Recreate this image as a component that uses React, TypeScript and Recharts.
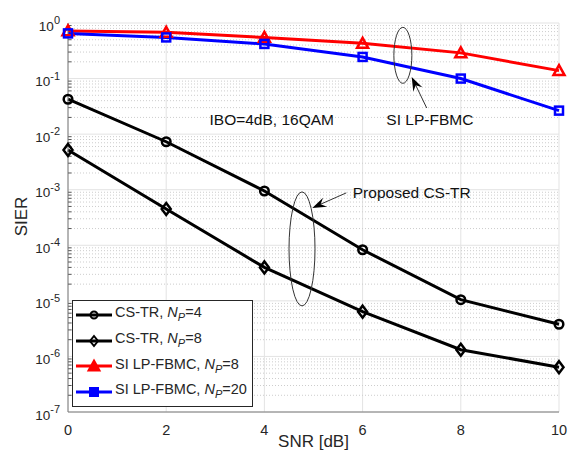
import React from 'react';
import {
  LineChart,
  Line,
  XAxis,
  YAxis,
  CartesianGrid,
  ReferenceLine,
  ReferenceDot,
  Legend,
  Label,
} from 'recharts';

// ---------- data ----------
const snrDb = [0, 2, 4, 6, 8, 10];
const csTrNp4 = [4.25e-2, 7.3e-3, 9.5e-4, 8.3e-5, 1.05e-5, 3.8e-6];
const csTrNp8 = [5.2e-3, 4.5e-4, 4.0e-5, 6.4e-6, 1.32e-6, 6.4e-7];
const siNp8 = [0.72, 0.68, 0.55, 0.43, 0.29, 0.139];
const siNp20 = [0.65, 0.55, 0.42, 0.245, 0.1, 0.0265];

const xTicks = [0, 2, 4, 6, 8, 10];
const yTicks = [1e-7, 1e-6, 1e-5, 1e-4, 1e-3, 1e-2, 1e-1, 1];
const minorMantissas = [2, 3, 4, 5, 6, 7, 8, 9];

const seriesNames = [
  { key: 'np4', base: 'CS-TR, ', np: '4', color: '#000000', marker: 'circle' },
  { key: 'np8', base: 'CS-TR, ', np: '8', color: '#000000', marker: 'diamond' },
  { key: 'si8', base: 'SI LP-FBMC, ', np: '8', color: '#ff0000', marker: 'triangle' },
  { key: 'si20', base: 'SI LP-FBMC, ', np: '20', color: '#0000ff', marker: 'square' },
];

const data = snrDb.map((x, i) => ({
  snr: x,
  np4: csTrNp4[i],
  np8: csTrNp8[i],
  si8: siNp8[i],
  si20: siNp20[i],
}));

const minorTicks: number[] = [];
yTicks.slice(0, -1).forEach((d) => minorMantissas.forEach((m) => minorTicks.push(d * m)));

const FONT = '"Liberation Sans", Arial, Helvetica, sans-serif';
const TEXT = '#262626';

// ---------- markers ----------
function Marker({ type, cx, cy, color, legend }: any) {
  const sw = legend ? 2 : 2.5;
  const fill = legend ? color : 'none';
  if (type === 'circle') {
    return <circle cx={cx} cy={cy} r={legend ? 3.5 : 4.3} fill="none" stroke={color} strokeWidth={sw} />;
  }
  if (type === 'diamond') {
    const h = legend ? 5 : 6;
    const w = legend ? 4 : 4.5;
    return (
      <polygon
        points={`${cx},${cy - h} ${cx + w},${cy} ${cx},${cy + h} ${cx - w},${cy}`}
        fill="none"
        stroke={color}
        strokeWidth={sw}
      />
    );
  }
  if (type === 'triangle') {
    const s = 5.5;
    return (
      <polygon
        points={`${cx},${cy - s} ${cx + s},${cy + s * 0.8} ${cx - s},${cy + s * 0.8}`}
        fill={fill}
        stroke={color}
        strokeWidth={sw}
        strokeLinejoin="miter"
      />
    );
  }
  const s = 4;
  return <rect x={cx - s} y={cy - s} width={2 * s} height={2 * s} fill={fill} stroke={color} strokeWidth={sw} />;
}

const makeDot = (type: string, color: string) => (props: any) => {
  const { cx, cy, index } = props;
  if (cx == null || cy == null) return <g key={`d-${type}-${index}`} />;
  return (
    <g key={`d-${type}-${index}`}>
      <Marker type={type} cx={cx} cy={cy} color={color} />
    </g>
  );
};

// ---------- ticks ----------
const YTick = (props: any) => {
  const { x, y, payload } = props;
  const exp = Math.round(Math.log10(payload.value));
  return (
    <text x={x - 8} y={y + 7.5} textAnchor="end" fontFamily={FONT} fill={TEXT}>
      <tspan fontSize={13.5}>10</tspan>
      <tspan fontSize={11} dy={-6.5}>
        {exp}
      </tspan>
    </text>
  );
};

const XTick = (props: any) => {
  const { x, y, payload } = props;
  return (
    <text x={x} y={y + 23} textAnchor="middle" fontFamily={FONT} fontSize={14.5} fill={TEXT}>
      {payload.value}
    </text>
  );
};

// ---------- annotations ----------
const TextShape = (label: string, anchor: string) => (p: any) => (
  <text x={p.cx} y={p.cy} textAnchor={anchor} fontFamily={FONT} fontSize={15.5} fill="#111">
    {label}
  </text>
);

const EllipseShape = (rx: number, ry: number) => (p: any) => (
  <ellipse cx={p.cx} cy={p.cy} rx={rx} ry={ry} fill="none" stroke="#333" strokeWidth={1} />
);

const ArrowShape = (dx: number, dy: number) => (p: any) => {
  const tx = p.cx;
  const ty = p.cy;
  const sx = tx + dx;
  const sy = ty + dy;
  const len = Math.hypot(dx, dy);
  const ux = -dx / len;
  const uy = -dy / len;
  const hl = 14;
  const hw = 5;
  const bx = tx - ux * hl;
  const by = ty - uy * hl;
  const nx = -uy;
  const ny = ux;
  const ix = tx - ux * hl * 0.65;
  const iy = ty - uy * hl * 0.65;
  return (
    <g>
      <line x1={sx} y1={sy} x2={ix} y2={iy} stroke="#333" strokeWidth={1} />
      <polygon
        points={`${tx},${ty} ${bx + nx * hw},${by + ny * hw} ${ix},${iy} ${bx - nx * hw},${by - ny * hw}`}
        fill="#000"
        stroke="none"
      />
    </g>
  );
};

// ---------- legend ----------
const LegendContent = () => (
  <div
    style={{
      width: 181,
      height: 107,
      boxSizing: 'border-box',
      border: '1px solid #262626',
      background: '#fff',
      paddingTop: 1,
      fontFamily: FONT,
    }}
  >
    {seriesNames.map((s) => (
      <div key={s.key} style={{ height: 25.7, display: 'flex', alignItems: 'center' }}>
        <svg width={42} height={20} style={{ flex: 'none' }}>
          <line x1={3} y1={10} x2={39} y2={10} stroke={s.color} strokeWidth={3} />
          <Marker type={s.marker} cx={21} cy={10} color={s.color} legend />
        </svg>
        <span style={{ fontSize: 14.5, color: TEXT, whiteSpace: 'nowrap', lineHeight: '16px' }}>
          {s.base}
          <i>N</i>
          <sub style={{ fontSize: 11, fontStyle: 'italic', verticalAlign: -4 }}>P</sub>={s.np}
        </span>
      </div>
    ))}
  </div>
);

export default function App() {
  return (
    <div style={{ position: 'absolute', left: 0, top: 0, background: '#fff' }}>
      <LineChart width={587} height={454} data={data} margin={{ top: 23, right: 28, bottom: 12, left: 8 }}>
        <CartesianGrid stroke="#e3e3e3" strokeWidth={1} horizontalValues={yTicks} verticalValues={xTicks} />
        {minorTicks.map((v) => (
          <ReferenceLine key={`m-${v}`} y={v} stroke="#cdcdcd" strokeDasharray="1 2" strokeWidth={1} />
        ))}
        {minorTicks.map((v) => (
          <ReferenceLine
            key={`mt-${v}`}
            segment={[
              { x: 0, y: v },
              { x: 0.07, y: v },
            ]}
            stroke="#555"
            strokeWidth={1}
          />
        ))}
        <XAxis
          dataKey="snr"
          type="number"
          domain={[0, 10]}
          ticks={xTicks}
          height={30}
          tickLine={false}
          tickSize={0}
          tickMargin={0}
          axisLine={{ stroke: '#7a7a7a' }}
          tick={<XTick />}
        >
          <Label
            content={(p: any) => {
              const vb = p.viewBox;
              return (
                <text x={vb.x + vb.width / 2} y={vb.y + 35} textAnchor="middle" fontFamily={FONT} fontSize={17} fill={TEXT}>
                  SNR [dB]
                </text>
              );
            }}
          />
        </XAxis>
        <YAxis
          type="number"
          scale="log"
          domain={[1e-7, 1]}
          ticks={yTicks}
          width={60}
          allowDataOverflow
          tickLine={false}
          tickSize={0}
          tickMargin={0}
          axisLine={{ stroke: '#7a7a7a' }}
          tick={<YTick />}
        >
          <Label
            content={(p: any) => {
              const vb = p.viewBox;
              const cx = vb.x + 13.5;
              const cy = vb.y + vb.height / 2 - 1;
              return (
                <text
                  x={cx}
                  y={cy}
                  transform={`rotate(-90 ${cx} ${cy})`}
                  textAnchor="middle"
                  dominantBaseline="central"
                  fontFamily={FONT}
                  fontSize={17}
                  fill={TEXT}
                >
                  SIER
                </text>
              );
            }}
          />
        </YAxis>
        <Legend
          layout="horizontal"
          verticalAlign="middle"
          align="center"
          content={<LegendContent />}
          wrapperStyle={{ position: 'absolute', left: 72, top: 300, width: 181, height: 107 }}
        />
        <Line dataKey="np4" stroke="#000" strokeWidth={3} dot={makeDot('circle', '#000')} isAnimationActive={false} legendType="none" />
        <Line dataKey="np8" stroke="#000" strokeWidth={3} dot={makeDot('diamond', '#000')} isAnimationActive={false} legendType="none" />
        <Line dataKey="si8" stroke="#ff0000" strokeWidth={3} dot={makeDot('triangle', '#ff0000')} isAnimationActive={false} legendType="none" />
        <Line dataKey="si20" stroke="#0000ff" strokeWidth={3} dot={makeDot('square', '#0000ff')} isAnimationActive={false} legendType="none" />

        <ReferenceDot x={4.15} y={0.0146} r={0} shape={TextShape('IBO=4dB, 16QAM', 'middle')} />
        <ReferenceDot x={7.37} y={0.0146} r={0} shape={TextShape('SI LP-FBMC', 'middle')} />
        <ReferenceDot x={5.8} y={7.12e-4} r={0} shape={TextShape('Proposed CS-TR', 'start')} />
        <ReferenceDot x={6.82} y={0.262} r={0} shape={EllipseShape(9, 28)} />
        <ReferenceDot x={4.766} y={8.61e-5} r={0} shape={EllipseShape(13, 57)} />
        <ReferenceDot x={7.0} y={0.107} r={0} shape={ArrowShape(15, 31)} />
        <ReferenceDot x={4.975} y={4.71e-4} r={0} shape={ArrowShape(34, -15)} />
      </LineChart>
    </div>
  );
}
